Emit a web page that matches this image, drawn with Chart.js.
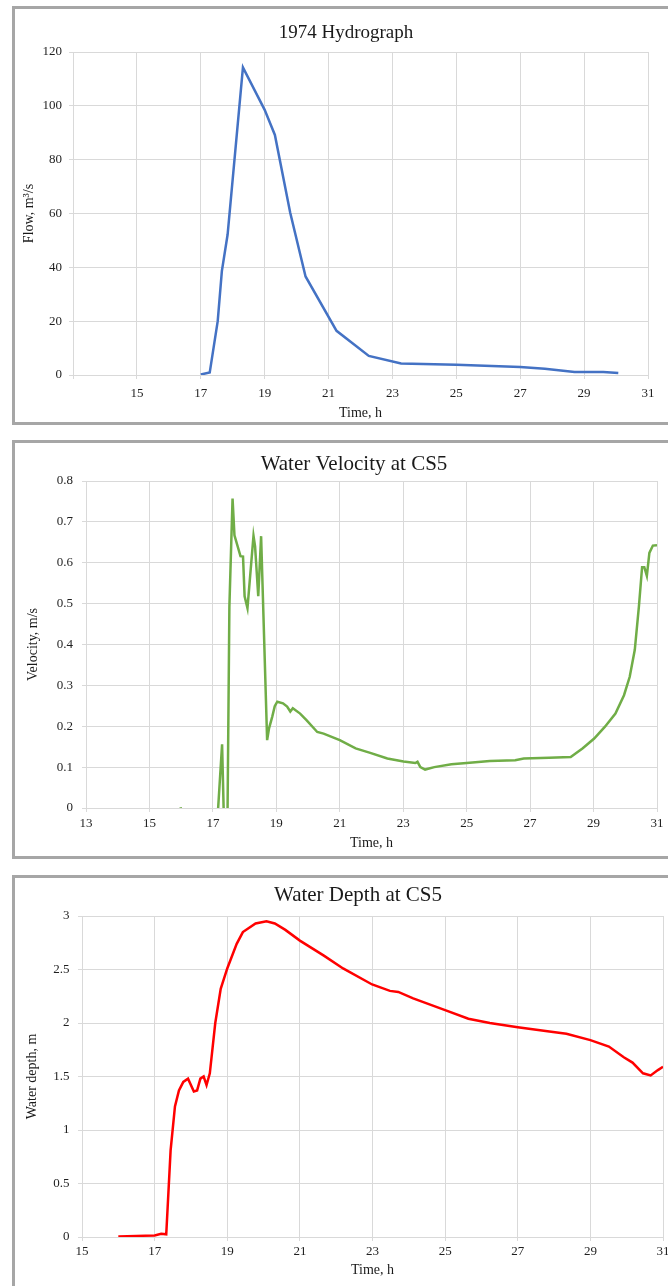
<!DOCTYPE html>
<html>
<head>
<meta charset="utf-8">
<title>CS5 charts</title>
<script src="https://cdn.jsdelivr.net/npm/chart.js@4.4.1/dist/chart.umd.min.js"></script>
<style>
  html, body { margin: 0; padding: 0; background: #fff; width: 668px; height: 1286px; overflow: hidden; }
  .panel { position: absolute; border: 3px solid #a6a6a6; background: #fff; }
  .panel canvas { display: block; }
</style>
</head>
<body>
<div class="panel" style="left:12px;top:6px;width:680px;height:413px;"><canvas id="flowChart" width="660" height="413"></canvas></div>
<div class="panel" style="left:12px;top:440px;width:680px;height:413px;"><canvas id="velocityChart" width="660" height="413"></canvas></div>
<div class="panel" style="left:12px;top:875px;width:680px;height:420px;"><canvas id="depthChart" width="660" height="408"></canvas></div>

<script>
// 1974 hydrograph (time in h, flow in m3/s)
const hydroTime = [17.0, 17.28, 17.53, 17.66, 17.84, 18.32, 19.0, 19.32, 19.8, 20.28, 21.25, 22.26, 23.27, 25.0, 27.0, 27.77, 28.7, 29.6, 30.07];
const hydroFlow = [0.2, 0.9, 20, 38.6, 52.2, 114.3, 98.5, 89.2, 60.3, 36.6, 16.4, 7.1, 4.3, 3.8, 3.0, 2.3, 1.1, 1.1, 0.7];

// water velocity at CS5 (m/s)
const velTime = [15.98, 16.05, 17.15, 17.29, 17.40, 17.44, 17.52, 17.62, 17.68, 17.87, 17.95, 18.0, 18.09, 18.28, 18.33, 18.43, 18.52,
  18.71, 18.77, 18.87, 18.95, 19.03, 19.21, 19.34, 19.44, 19.52, 19.75, 19.95, 20.29, 20.49, 21.0, 21.5, 21.96, 22.5, 23.01,
  23.38, 23.45, 23.54, 23.69, 23.98, 24.52, 25.0, 25.73, 26.53, 26.8, 27.6, 28.28, 28.66, 29.02, 29.36, 29.69, 29.96, 30.14,
  30.30, 30.43, 30.53, 30.60, 30.68, 30.76, 30.87, 31.0];
const velValue = [0.002, -0.02, -0.02, 0.156, -0.2, -0.2, 0.493, 0.757, 0.667, 0.616, 0.615, 0.518, 0.489, 0.666, 0.64, 0.518, 0.665,
  0.166, 0.195, 0.223, 0.249, 0.26, 0.256, 0.248, 0.236, 0.244, 0.231, 0.215, 0.186, 0.182, 0.166, 0.146, 0.135, 0.121, 0.114,
  0.110, 0.113, 0.100, 0.094, 0.100, 0.107, 0.110, 0.115, 0.117, 0.121, 0.123, 0.125, 0.146, 0.170, 0.199, 0.231, 0.276, 0.321,
  0.387, 0.493, 0.589, 0.589, 0.568, 0.624, 0.642, 0.643];

// water depth at CS5 (m)
const depthTime = [16.0, 16.5, 17.0, 17.18, 17.32, 17.44, 17.56, 17.67, 17.79, 17.92, 18.08, 18.17, 18.26, 18.35, 18.43, 18.52,
  18.67, 18.82, 19.0, 19.26, 19.43, 19.78, 20.08, 20.31, 20.6, 21.0, 21.66, 22.19, 22.99, 23.48, 23.71, 24.12, 25.0, 25.64,
  26.23, 27.0, 27.87, 28.34, 29.0, 29.51, 29.92, 30.16, 30.45, 30.66, 30.86, 31.0];
const depthValue = [0.005, 0.01, 0.015, 0.03, 0.025, 0.81, 1.22, 1.37, 1.45, 1.48, 1.36, 1.37, 1.48, 1.50, 1.42, 1.53,
  2.0, 2.32, 2.51, 2.74, 2.85, 2.93, 2.95, 2.93, 2.87, 2.77, 2.63, 2.51, 2.36, 2.30, 2.29, 2.23, 2.12, 2.04,
  2.0, 1.96, 1.92, 1.90, 1.84, 1.78, 1.68, 1.63, 1.53, 1.51, 1.56, 1.59];

Chart.defaults.font.family = "'Liberation Serif', 'Times New Roman', serif";
Chart.defaults.color = "#1f1f1f";

const GRID = "#d9d9d9";

// draws the panel title at a fixed spot (Excel centres it on the frame, not the plot)
const panelTitle = {
  id: "panelTitle",
  afterDraw(chart, args, opts) {
    const ctx = chart.ctx;
    ctx.save();
    ctx.font = `${opts.size}px 'Liberation Serif', 'Times New Roman', serif`;
    ctx.fillStyle = "#1a1a1a";
    ctx.textAlign = "center";
    ctx.textBaseline = "middle";
    ctx.fillText(opts.text, opts.x, opts.y);
    ctx.restore();
  },
};

function toPoints(xs, ys) {
  return xs.map((x, i) => ({ x: x, y: ys[i] }));
}

function makeChart(id, cfg) {
  const canvas = document.getElementById(id);
  return new Chart(canvas.getContext("2d"), {
    type: "scatter",
    data: {
      datasets: [{
        data: toPoints(cfg.xs, cfg.ys),
        showLine: true,
        borderColor: cfg.color,
        borderWidth: 2.5,
        pointRadius: 0,
        tension: 0,
        clip: 0,
      }],
    },
    options: {
      responsive: false,
      animation: false,
      layout: { padding: { left: 0, right: cfg.padRight, top: cfg.padTop, bottom: 0 } },
      plugins: {
        legend: { display: false },
        tooltip: { enabled: false },
        panelTitle: cfg.title,
      },
      scales: {
        x: {
          type: "linear",
          min: cfg.xMin,
          max: 31,
          afterBuildTicks: (scale) => {
            scale.ticks = [];
            for (let v = cfg.xMin; v <= 31; v += 2) scale.ticks.push({ value: v });
          },
          afterFit: (scale) => { scale.height = cfg.xHeight; },
          grid: { color: GRID, lineWidth: 1, tickLength: 4 },
          border: { color: GRID },
          ticks: {
            font: { size: 13 },
            padding: cfg.xLabelPad,
            maxRotation: 0,
            callback: (v) => (cfg.hideFirstX && v === cfg.xMin ? "" : v),
          },
          title: {
            display: true,
            text: "Time, h",
            font: { size: 14 },
            color: "#1a1a1a",
            padding: { top: 0, bottom: cfg.xTitlePad },
          },
        },
        y: {
          min: 0,
          max: cfg.yMax,
          afterBuildTicks: (scale) => {
            scale.ticks = [];
            for (let i = 0; i * cfg.yStep <= cfg.yMax + 1e-9; i++) scale.ticks.push({ value: +(i * cfg.yStep).toFixed(2) });
          },
          afterFit: (scale) => { scale.width = cfg.yWidth; },
          grid: { color: GRID, lineWidth: 1, tickLength: 4 },
          border: { color: GRID },
          ticks: {
            font: { size: 13 },
            padding: cfg.yLabelPad,
            callback: (v) => String(+v.toFixed(2)),
          },
          title: {
            display: true,
            text: cfg.yTitle,
            font: { size: 14 },
            color: "#1a1a1a",
            padding: { top: cfg.yTitlePad, bottom: 0 },
          },
        },
      },
    },
    plugins: [panelTitle],
  });
}

makeChart("flowChart", {
  xs: hydroTime, ys: hydroFlow, color: "#4472c4",
  xMin: 13, hideFirstX: true, yMax: 120, yStep: 20,
  padTop: 43, padRight: 27, xHeight: 47, yWidth: 58,
  xLabelPad: 7, xTitlePad: 0, yLabelPad: 7, yTitlePad: 6,
  yTitle: "Flow, m³/s",
  title: { text: "1974 Hydrograph", x: 331, y: 24, size: 19 },
});

makeChart("velocityChart", {
  xs: velTime, ys: velValue, color: "#70ad47",
  xMin: 13, hideFirstX: false, yMax: 0.8, yStep: 0.1,
  padTop: 38, padRight: 18, xHeight: 48, yWidth: 71,
  xLabelPad: 3.5, xTitlePad: 4, yLabelPad: 9, yTitlePad: 10,
  yTitle: "Velocity, m/s",
  title: { text: "Water Velocity at CS5", x: 339, y: 21, size: 21 },
});

makeChart("depthChart", {
  xs: depthTime, ys: depthValue, color: "#ff0000",
  xMin: 15, hideFirstX: false, yMax: 3, yStep: 0.5,
  padTop: 38, padRight: 12, xHeight: 49, yWidth: 67,
  xLabelPad: 3, xTitlePad: 7, yLabelPad: 8.5, yTitlePad: 9,
  yTitle: "Water depth, m",
  title: { text: "Water Depth at CS5", x: 343, y: 17, size: 21 },
});
</script>
</body>
</html>
